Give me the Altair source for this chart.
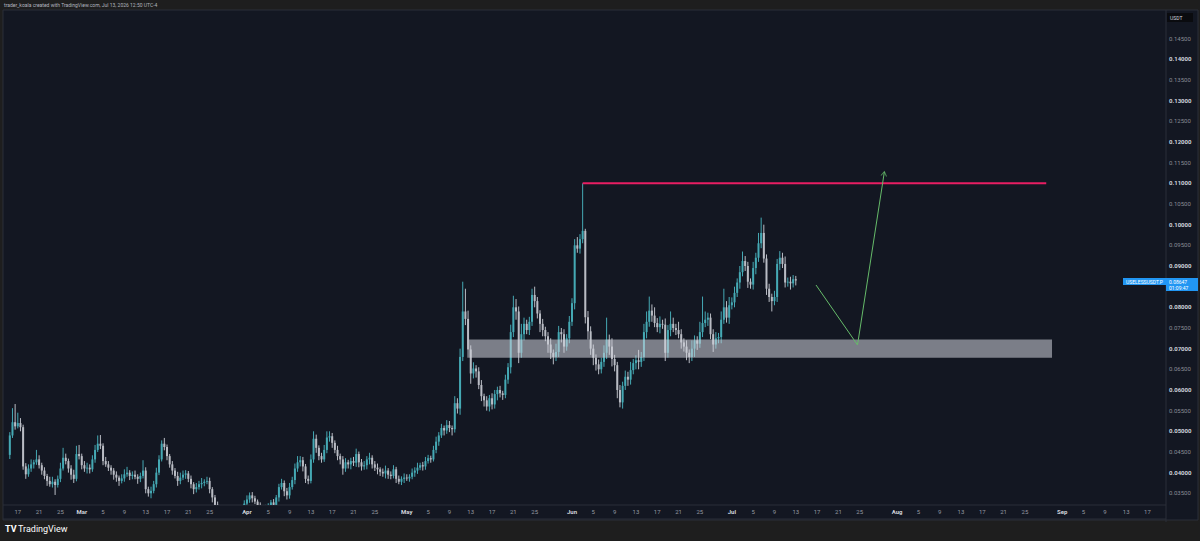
import datetime as dt
import altair as alt
import pandas as pd

# ---------------- data (prices in units of 0.0001 USDT) ----------------
first_open = 443
close = [
    490, 522, 512, 520, 510, 415, 396, 410, 420, 425,
    432, 418, 405, 392, 380, 372, 378, 370, 385, 410,
    436, 428, 410, 395, 385, 445, 440, 418, 410, 412,
    408, 432, 455, 470, 465, 428, 420, 412, 405, 395,
    388, 380, 386, 396, 400, 392, 395, 390, 385, 392,
    405, 360, 350, 356, 372, 400, 432, 470, 462, 440,
    420, 405, 392, 380, 388, 395, 398, 385, 372, 360,
    365, 372, 375, 378, 380, 360, 340, 322, 310, 300,
    295, 290, 298, 292, 288, 295, 305, 312, 325, 335,
    345, 338, 330, 320, 315, 310, 312, 318, 328, 322,
    340, 365, 375, 355, 345, 365, 382, 410, 425, 430,
    415, 385, 380, 432, 482, 460, 440, 432, 455, 485,
    488, 472, 455, 440, 432, 410, 425, 420, 428, 424,
    445, 425, 415, 418, 432, 436, 420, 412, 408, 402,
    398, 405, 395, 392, 408, 385, 378, 385, 388, 386,
    390, 400, 405, 412, 418, 415, 428, 435, 432, 455,
    475, 490, 508, 502, 515, 508, 505, 568, 555, 680,
    790, 772, 698, 640, 652, 645, 612, 585, 575, 560,
    580, 565, 590, 600, 592, 588, 625, 655, 740, 800,
    790, 690, 735, 760, 745, 765, 830, 815, 785, 760,
    745, 730, 710, 690, 680, 692, 740, 735, 705, 725,
    765, 810, 950, 942, 965, 985, 776, 742, 700, 678,
    662, 650, 668, 690, 722, 705, 675, 660, 600, 570,
    610, 632, 625, 648, 665, 672, 668, 680, 740, 765,
    792, 780, 762, 752, 760, 758, 690, 745, 760, 750,
    745, 735, 715, 705, 690, 680, 700, 720, 712, 740,
    762, 770, 775, 735, 710, 725, 728, 770, 800, 775,
    805, 812, 835, 860, 885, 912, 900, 862, 855, 895,
    920, 955, 980, 918, 845, 825, 815, 825, 905, 920,
    905, 860, 862, 858, 868, 865,
]
wick_up = [
    8, 34, 44, 25, 12, 6, 8, 10, 12, 6,
    23, 10, 6, 8, 5, 10, 12, 6, 8, 14,
    24, 10, 6, 8, 12, 20, 22, 6, 10, 12,
    8, 10, 12, 20, 21, 6, 10, 8, 6, 6,
    8, 5, 10, 12, 14, 6, 8, 10, 6, 8,
    25, 8, 6, 10, 8, 12, 10, 8, 14, 6,
    5, 8, 6, 10, 12, 10, 8, 6, 8, 5,
    10, 8, 12, 6, 10, 8, 5, 6, 8, 6,
    5, 8, 6, 10, 6, 8, 10, 6, 8, 10,
    7, 8, 6, 5, 8, 6, 10, 8, 6, 8,
    6, 8, 10, 6, 8, 10, 8, 12, 15, 10,
    8, 6, 8, 12, 18, 10, 6, 8, 12, 15,
    12, 8, 6, 10, 6, 8, 10, 6, 8, 10,
    13, 6, 8, 10, 8, 12, 6, 8, 10, 5,
    8, 12, 6, 8, 10, 6, 8, 6, 10, 8,
    6, 10, 8, 12, 6, 8, 10, 8, 6, 10,
    12, 8, 10, 6, 12, 10, 6, 17, 12, 20,
    72, 55, 20, 10, 15, 8, 10, 12, 6, 10,
    8, 12, 10, 8, 10, 6, 12, 10, 18, 28,
    20, 12, 25, 15, 10, 12, 15, 20, 10, 8,
    12, 8, 10, 15, 8, 20, 15, 10, 12, 10,
    14, 12, 15, 20, 12, 115, 5, 15, 12, 10,
    8, 12, 10, 18, 53, 12, 20, 10, 8, 12,
    10, 15, 12, 20, 10, 12, 25, 12, 20, 25,
    34, 15, 20, 12, 18, 10, 15, 12, 30, 15,
    10, 20, 12, 10, 15, 8, 20, 12, 10, 25,
    64, 20, 12, 10, 12, 15, 10, 20, 45, 15,
    20, 12, 15, 10, 15, 23, 12, 10, 8, 15,
    12, 25, 37, 20, 10, 12, 8, 15, 12, 16,
    12, 18, 10, 12, 10, 8,
]
wick_dn = [
    10, 6, 8, 5, 10, 8, 11, 6, 8, 10,
    6, 8, 10, 8, 12, 6, 8, 24, 6, 8,
    5, 8, 10, 12, 10, 6, 8, 10, 8, 12,
    10, 6, 8, 5, 8, 10, 6, 8, 10, 12,
    10, 12, 6, 8, 6, 10, 8, 6, 12, 8,
    6, 10, 8, 12, 6, 8, 6, 5, 8, 10,
    8, 10, 6, 12, 8, 6, 10, 8, 10, 12,
    8, 6, 10, 8, 6, 10, 12, 10, 8, 10,
    8, 10, 6, 8, 10, 8, 6, 8, 10, 6,
    8, 10, 6, 8, 10, 6, 8, 10, 6, 12,
    8, 10, 6, 12, 10, 8, 6, 10, 8, 10,
    12, 10, 8, 6, 8, 12, 10, 8, 6, 8,
    10, 12, 8, 10, 12, 15, 8, 10, 12, 8,
    10, 12, 10, 8, 10, 12, 10, 8, 12, 10,
    8, 12, 10, 8, 6, 10, 6, 8, 10, 6,
    8, 6, 10, 8, 6, 10, 8, 6, 8, 5,
    8, 10, 6, 12, 8, 10, 15, 8, 12, 15,
    10, 15, 20, 25, 12, 15, 10, 12, 15, 10,
    12, 12, 10, 15, 10, 12, 8, 10, 15, 12,
    20, 25, 12, 15, 10, 12, 10, 15, 12, 20,
    15, 12, 20, 15, 18, 10, 12, 20, 15, 10,
    12, 10, 15, 10, 12, 10, 15, 20, 15, 18,
    15, 12, 10, 12, 15, 20, 18, 15, 20, 12,
    15, 10, 15, 12, 10, 15, 18, 12, 10, 15,
    12, 15, 10, 12, 15, 10, 20, 12, 15, 10,
    12, 10, 15, 12, 18, 15, 10, 20, 15, 10,
    12, 10, 15, 12, 18, 10, 12, 15, 10, 12,
    15, 10, 12, 10, 15, 10, 12, 15, 10, 12,
    15, 10, 12, 10, 15, 12, 25, 10, 12, 15,
    10, 12, 10, 15, 10, 12,
]

# drawings on the chart
zone_start, zone_end = "2026-05-12T16:00:00", "2026-08-30T02:00:00"
zone_top, zone_bottom = 0.0722, 0.0678
res_start, res_end, res_price = "2026-06-03T00:00:00", "2026-08-29T00:00:00", 0.1100
arrow_times = ["2026-07-16T19:00:00", "2026-07-24T14:00:00", "2026-07-29T15:00:00"]
arrow_prices = [0.0854, 0.0709, 0.1128]

# axis labels
y_ticks = [0.035, 0.040, 0.045, 0.050, 0.055, 0.060, 0.065, 0.070, 0.075, 0.080,
           0.090, 0.095, 0.100, 0.105, 0.110, 0.115, 0.120, 0.125, 0.130,
           0.135, 0.140, 0.145]
tick_days = [1, 5, 9, 13, 17, 21, 25]
month_names = {2: "Feb", 3: "Mar", 4: "Apr", 5: "May", 6: "Jun", 7: "Jul", 8: "Aug", 9: "Sep"}

header = "trader_koala created with TradingView.com, Jul 13, 2026 12:50 UTC-4"
symbol = "USELESSUSDT.P"
last_price_txt = "0.08647"
countdown_txt = "01:09:47"

# ---------------- build table ----------------
first_bar = dt.datetime(2026, 2, 15, 12, 0)
opens = [first_open] + close[:-1]
rows = []
for i, c in enumerate(close):
    o = opens[i]
    rows.append(dict(
        t=(first_bar + dt.timedelta(hours=12 * i)).strftime("%Y-%m-%dT%H:%M:%S"),
        open=o / 1e4, close=c / 1e4,
        high=(max(o, c) + wick_up[i]) / 1e4,
        low=(min(o, c) - wick_dn[i]) / 1e4,
        dir="up" if c >= o else "down",
    ))
df = pd.DataFrame(rows)

# ---------------- layout ----------------
W, H = 1162, 495          # plot area (canvas x 4..1166, y 10..505)
apr1 = dt.datetime(2026, 4, 1)
ppd = 5.375               # px per day
x0 = apr1 - dt.timedelta(days=(244 - 4) / ppd)
x1 = apr1 + dt.timedelta(days=(1166 - 244) / ppd)


def dto(d):
    return alt.DateTime(year=d.year, month=d.month, date=d.day,
                        hours=d.hour, minutes=d.minute, seconds=d.second)


xscale = alt.Scale(domain=[dto(x0), dto(x1)], nice=False)
yscale = alt.Scale(domain=[0.03217, 0.15194], nice=False, zero=False)

tick_dates = [dt.datetime(2026, m, d) for m in range(2, 10) for d in tick_days]
tick_dates = [t for t in tick_dates if x0 <= t <= x1]
xlab = pd.DataFrame({
    "t": [t.strftime("%Y-%m-%dT%H:%M:%S") for t in tick_dates],
    "s": [month_names[t.month] if t.day == 1 else str(t.day) for t in tick_dates],
    "major": [t.day == 1 for t in tick_dates],
})
ylab = pd.DataFrame({
    "p": y_ticks,
    "s": [f"{v:.5f}" for v in y_ticks],
    "major": [round(v * 1000) % 10 == 0 for v in y_ticks],
})

FONT = "Roboto"
NAVY = "#131722"
GRIDC = "#2a2e39"

X = lambda f: alt.X(f, scale=xscale, axis=None, title=None)
Y = lambda f: alt.Y(f, scale=yscale, axis=None, title=None)

# background panel (chart + axes area)
panel = alt.Chart(pd.DataFrame({"a": [0]})).mark_rect(
    color=NAVY, stroke=GRIDC, strokeWidth=1, clip=False
).encode(x=alt.value(-1), x2=alt.value(1194), y=alt.value(0), y2=alt.value(510))

base = alt.Chart(df)
color_body = alt.Color("dir:N", scale=alt.Scale(domain=["up", "down"], range=["#4fc3cf", "#eef0f4"]), legend=None)
color_wick = alt.Color("dir:N", scale=alt.Scale(domain=["up", "down"], range=["#45a9b4", "#b9bcc4"]), legend=None)

wicks = base.mark_rule(strokeWidth=1, clip=True).encode(
    x=X("t:T"), y=Y("low:Q"), y2="high:Q", color=color_wick)
bodies = base.mark_bar(size=2, clip=True).encode(
    x=X("t:T"), y=Y("open:Q"), y2="close:Q", color=color_body)

zone = alt.Chart(pd.DataFrame({"t1": [zone_start], "t2": [zone_end], "p1": [zone_bottom], "p2": [zone_top]})).mark_rect(
    color="#d1d4dc", opacity=0.55
).encode(x=X("t1:T"), x2="t2:T", y=Y("p1:Q"), y2="p2:Q")

res = alt.Chart(pd.DataFrame({"t1": [res_start], "t2": [res_end], "p": [res_price]})).mark_rule(
    color="#e91e63", strokeWidth=2
).encode(x=X("t1:T"), x2="t2:T", y=Y("p:Q"))

arrow_df = pd.DataFrame({"t": arrow_times, "p": arrow_prices, "o": [0, 1, 2]})
arrow = alt.Chart(arrow_df).mark_line(color="#66bb6a", strokeWidth=1).encode(
    x=X("t:T"), y=Y("p:Q"), order="o:Q")
head = alt.Chart(arrow_df.iloc[[2]]).mark_point(
    shape="M -0.6 0.9 L 0 0 L 0.6 0.9", filled=False, color="#66bb6a", strokeWidth=1, size=90, angle=9
).encode(x=X("t:T"), y=Y("p:Q"))

# axis labels drawn through the scales
xl_minor = alt.Chart(xlab[~xlab["major"]]).mark_text(
    fontSize=6, font=FONT, color="#9598a1", baseline="middle", align="center", clip=False
).encode(x=X("t:T"), y=alt.value(502), text="s:N")
xl_major = alt.Chart(xlab[xlab["major"]]).mark_text(
    fontSize=6, font=FONT, color="#d1d4dc", fontWeight="bold", baseline="middle", align="center", clip=False
).encode(x=X("t:T"), y=alt.value(502), text="s:N")
yl_minor = alt.Chart(ylab[~ylab["major"]]).mark_text(
    fontSize=6, font=FONT, color="#8a8d96", baseline="middle", align="left", clip=False
).encode(x=alt.value(1165), y=Y("p:Q"), text="s:N")
yl_major = alt.Chart(ylab[ylab["major"]]).mark_text(
    fontSize=6, font=FONT, color="#d1d4dc", fontWeight="bold", baseline="middle", align="left", clip=False
).encode(x=alt.value(1165), y=Y("p:Q"), text="s:N")

one = pd.DataFrame({"a": [0]})


def box(x, x2, y, y2, color):
    return alt.Chart(one).mark_rect(color=color, clip=False).encode(
        x=alt.value(x), x2=alt.value(x2), y=alt.value(y), y2=alt.value(y2))


def label(txt, x, y, size, color, align="left", weight="normal"):
    return alt.Chart(pd.DataFrame({"s": [txt]})).mark_text(
        align=align, baseline="middle", fontSize=size, font=FONT, color=color, fontWeight=weight, clip=False
    ).encode(x=alt.value(x), y=alt.value(y), text="s:N")


def hline(x, x2, y, color):
    return alt.Chart(one).mark_rule(color=color, strokeWidth=1, clip=False).encode(
        x=alt.value(x), x2=alt.value(x2), y=alt.value(y))


def vline(x, y, y2, color):
    return alt.Chart(one).mark_rule(color=color, strokeWidth=1, clip=False).encode(
        x=alt.value(x), y=alt.value(y), y2=alt.value(y2))


frame = [
    hline(-1, 1162, 495, GRIDC),
    hline(-1, 1162, 509, GRIDC),
    vline(1162, 0, 512, GRIDC),
]
extras = [
    label(header, 0, -5, 5, "#b2b5be"),
    box(1163, 1189, 3, 12, "#0a0b0f"),
    label("USDT", 1166, 7.5, 5, "#d1d4dc"),
    box(1119, 1162, 268, 275, "#2196f3"),
    label(symbol, 1140.5, 271.5, 5, "#ffffff", align="center"),
    box(1162, 1194, 268, 281, "#2196f3"),
    label(last_price_txt, 1165, 271.5, 5, "#ffffff"),
    label(countdown_txt, 1165, 277.5, 5, "#ffffff"),
    label("TV", 1, 519, 9, "#ffffff", weight="bold"),
    label("TradingView", 14, 519, 9, "#ffffff"),
]

chart = alt.layer(panel, *frame, wicks, bodies, zone, res, arrow, head,
                  xl_minor, xl_major, yl_minor, yl_major, *extras).properties(
    width=W, height=H,
    padding={"left": 4, "top": 10, "right": 34, "bottom": 36},
    autosize=alt.AutoSizeParams(type="none"),
    background="#1e1e1e",
).configure_view(stroke=None)

chart.save("out.html", embed_options={"renderer": "svg", "actions": False})
